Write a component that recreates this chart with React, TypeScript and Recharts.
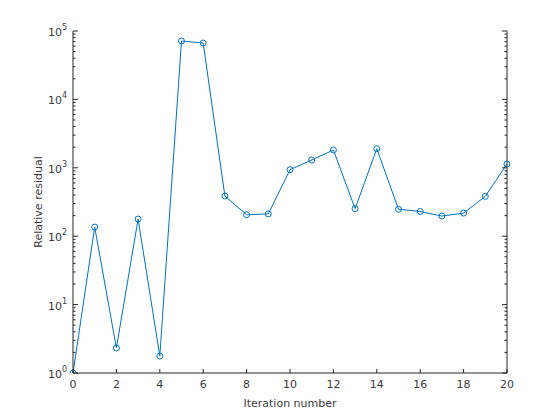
import React from "react";
import { LineChart, Line, XAxis, YAxis } from "recharts";

// Relative residual per iteration (log scale)
const ITERATIONS = [0, 1, 2, 3, 4, 5, 6, 7, 8, 9, 10, 11, 12, 13, 14, 15, 16, 17, 18, 19, 20];
const RESIDUALS = [
  1, 136, 2.32, 178, 1.77, 71400, 66800, 387, 206, 212, 938,
  1300, 1820, 253, 1900, 248, 230, 197, 218, 382, 1137,
];
const X_TICKS = [0, 2, 4, 6, 8, 10, 12, 14, 16, 18, 20];
const DECADES = [0, 1, 2, 3, 4, 5];

// major ticks at powers of ten, minor ticks at 2..9 x 10^d
const Y_TICKS: number[] = [];
DECADES.forEach((d) => {
  Y_TICKS.push(Math.pow(10, d));
  if (d < 5) for (let k = 2; k <= 9; k++) Y_TICKS.push(k * Math.pow(10, d));
});

const DATA = ITERATIONS.map((it, i) => ({ iter: it, res: RESIDUALS[i] }));

const AXIS = "#262626";
const TEXT = "#3a3a3a";
const BLUE = "#0072BD";
const FONT = "DejaVu Sans, sans-serif";

function isMajor(v: number) {
  const e = Math.log10(v);
  return Math.abs(e - Math.round(e)) < 1e-9;
}

function LeftTick(props: any) {
  const { x, y, payload } = props;
  const v = payload.value;
  const major = isMajor(v);
  return (
    <g>
      <line x1={x} x2={x + (major ? 5 : 2.5)} y1={y} y2={y} stroke={AXIS} strokeWidth={1} />
      {major && (
        <text x={x - 6} y={y + 5} textAnchor="end" fill={TEXT} fontSize={11} fontFamily={FONT}>
          10
          <tspan dy={-6} fontSize={8}>{Math.round(Math.log10(v))}</tspan>
        </text>
      )}
    </g>
  );
}

function RightTick(props: any) {
  const { x, y, payload } = props;
  const major = isMajor(payload.value);
  return <line x1={x} x2={x - (major ? 5 : 2.5)} y1={y} y2={y} stroke={AXIS} strokeWidth={1} />;
}

function BottomTick(props: any) {
  const { x, y, payload } = props;
  return (
    <g>
      <line x1={x} x2={x} y1={y} y2={y - 4} stroke={AXIS} strokeWidth={1} />
      <text x={x} y={y + 15} textAnchor="middle" fill={TEXT} fontSize={11} fontFamily={FONT}>
        {payload.value}
      </text>
    </g>
  );
}

function TopTick(props: any) {
  const { x, y } = props;
  return <line x1={x} x2={x} y1={y} y2={y + 4} stroke={AXIS} strokeWidth={1} />;
}

export default function App() {
  return (
    <div style={{ position: "absolute", left: 0, top: 0, width: 560, height: 420, background: "#fff" }}>
      <LineChart width={560} height={420} data={DATA} margin={{ top: 31, right: 0, left: 0, bottom: 0 }}>
        <XAxis
          xAxisId="bottom"
          dataKey="iter"
          type="number"
          domain={[0, 20]}
          ticks={X_TICKS}
          height={47}
          tickSize={0}
          tickMargin={0}
          tickLine={false}
          axisLine={{ stroke: AXIS }}
          tick={<BottomTick />}
          interval={0}
          label={{ value: "Iteration number", position: "insideBottom", offset: 13, fill: TEXT, fontSize: 11, fontFamily: FONT }}
        />
        <XAxis
          xAxisId="top"
          orientation="top"
          dataKey="iter"
          type="number"
          domain={[0, 20]}
          ticks={X_TICKS}
          height={0}
          tickSize={0}
          tickMargin={0}
          tickLine={false}
          axisLine={{ stroke: AXIS }}
          tick={<TopTick />}
          interval={0}
        />
        <YAxis
          yAxisId="left"
          scale="log"
          domain={[1, 100000]}
          allowDataOverflow
          ticks={Y_TICKS}
          width={73}
          tickSize={0}
          tickMargin={0}
          tickLine={false}
          axisLine={{ stroke: AXIS }}
          tick={<LeftTick />}
          interval={0}
          label={{ value: "Relative residual", angle: -90, position: "insideLeft", offset: 38, fill: TEXT, fontSize: 11, fontFamily: FONT, style: { textAnchor: "middle" } }}
        />
        <YAxis
          yAxisId="right"
          orientation="right"
          scale="log"
          domain={[1, 100000]}
          allowDataOverflow
          ticks={Y_TICKS}
          width={53}
          tickSize={0}
          tickMargin={0}
          tickLine={false}
          axisLine={{ stroke: AXIS }}
          tick={<RightTick />}
          interval={0}
        />
        <Line
          xAxisId="bottom"
          yAxisId="left"
          dataKey="res"
          type="linear"
          stroke={BLUE}
          strokeWidth={1}
          dot={{ r: 3, stroke: BLUE, strokeWidth: 1, fill: "none" }}
          isAnimationActive={false}
        />
      </LineChart>
    </div>
  );
}
